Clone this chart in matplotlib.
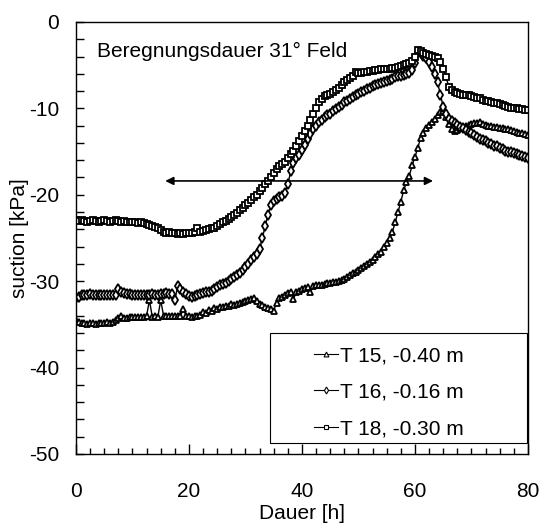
import numpy as np
import matplotlib.pyplot as plt
from matplotlib.patches import Rectangle
from matplotlib.ticker import MultipleLocator

plt.rcParams['font.family'] = ['Liberation Sans', 'DejaVu Sans']
plt.rcParams['axes.unicode_minus'] = False

# measurement time grid [h], one reading every 0.5 h
dauer = np.arange(0, 80.5, 0.5)

t15 = [-34.5, -34.7, -34.8, -34.8, -34.9, -34.8, -34.8, -34.9, -34.8, -34.8,
       -34.8, -34.7, -34.8, -34.7, -34.5, -34.3, -34.0, -34.3, -34.3, -34.2,
       -34.2, -34.1, -34.1, -34.1, -34.1, -34.0, -32.2, -34.1, -34.0, -34.1,
       -32.2, -34.0, -34.0, -34.0, -34.0, -34.0, -34.0, -34.0, -33.2, -34.0,
       -34.0, -34.1, -34.0, -34.0, -33.9, -33.6, -33.7, -33.3, -33.4, -33.1,
       -33.2, -33.0, -33.0, -32.9, -32.9, -32.7, -32.8, -32.6, -32.5, -32.4,
       -32.3, -32.2, -32.1, -32.0, -32.3, -32.6, -32.8, -33.0, -33.1, -33.2,
       -33.4, -32.5, -31.9, -31.8, -31.6, -31.4, -31.3, -32.1, -31.2, -31.1,
       -30.9, -30.8, -30.7, -31.3, -30.6, -30.5, -30.5, -30.4, -30.3, -30.2,
       -30.2, -30.1, -30.1, -30.0, -29.9, -29.7, -29.5, -29.3, -29.1, -28.9,
       -28.7, -28.5, -28.3, -28.0, -27.8, -27.5, -27.2, -26.9, -26.6, -26.1,
       -25.6, -25.0, -24.3, -23.2, -22.0, -20.8, -19.5, -18.5, -17.8, -16.6,
       -15.6, -14.6, -13.4, -12.8, -12.3, -11.9, -11.6, -11.2, -10.8, -10.4,
       -10.3, -11.0, -11.8, -12.4, -12.6, -12.5, -12.3, -12.2, -12.0, -11.9,
       -11.8, -11.7, -11.7, -11.6, -11.8, -11.9, -12.0, -12.0, -12.1, -12.2,
       -12.3, -12.3, -12.4, -12.4, -12.5, -12.6, -12.7, -12.8, -12.9, -13.0,
       -13.1]

t16 = [-31.9, -31.8, -31.6, -31.6, -31.6, -31.5, -31.6, -31.6, -31.6, -31.6,
       -31.6, -31.6, -31.6, -31.6, -31.6, -30.9, -31.2, -31.4, -31.5, -31.5,
       -31.6, -31.6, -31.6, -31.6, -31.6, -31.6, -31.6, -31.5, -31.6, -31.6,
       -31.5, -31.5, -31.4, -31.5, -31.5, -32.2, -30.6, -30.9, -31.2, -31.5,
       -31.7, -31.8, -31.7, -31.6, -31.5, -31.4, -31.3, -31.2, -31.1, -30.9,
       -30.7, -30.5, -30.3, -30.2, -30.0, -29.7, -29.5, -29.3, -29.0, -28.7,
       -28.4, -28.0, -27.6, -27.2, -26.8, -26.3, -25.0, -23.6, -22.3, -21.2,
       -20.7, -20.5, -20.3, -20.2, -19.8, -18.8, -17.3, -16.3, -15.8, -15.4,
       -14.8, -14.2, -13.6, -13.0, -12.4, -12.0, -11.6, -11.3, -11.0, -10.8,
       -10.6, -10.3, -10.1, -9.8, -9.6, -9.3, -9.1, -8.9, -8.7, -8.5,
       -8.3, -8.1, -8.0, -7.8, -7.6, -7.4, -7.3, -7.2, -7.1, -6.9,
       -6.8, -6.7, -6.6, -6.4, -6.3, -6.2, -6.1, -6.0, -5.9, -5.6,
       -4.8, -3.5, -3.6, -3.9, -4.2, -4.6, -5.2, -6.0, -7.0, -8.4,
       -9.8, -10.6, -11.2, -11.5, -11.7, -11.9, -12.1, -12.3, -12.5, -12.7,
       -12.9, -13.1, -13.3, -13.5, -13.7, -13.8, -14.0, -14.1, -14.3, -14.4,
       -14.6, -14.7, -14.9, -15.0, -15.1, -15.2, -15.3, -15.4, -15.5, -15.6,
       -15.7]

t18 = [-22.9, -23.0, -22.9, -23.0, -23.1, -23.0, -22.9, -23.0, -23.1, -23.0,
       -22.9, -23.0, -23.1, -23.0, -22.9, -23.0, -23.1, -23.0, -23.1, -23.2,
       -23.1, -23.2, -23.3, -23.2, -23.3, -23.4, -23.5, -23.6, -23.7, -23.9,
       -24.1, -24.3, -24.4, -24.3, -24.4, -24.4, -24.5, -24.4, -24.5, -24.4,
       -24.4, -24.4, -24.3, -23.9, -24.3, -24.2, -24.1, -24.0, -23.9, -23.8,
       -23.6, -23.4, -23.2, -23.0, -22.8, -22.6, -22.3, -22.1, -21.8, -21.5,
       -21.2, -20.9, -20.6, -20.3, -20.0, -19.6, -19.2, -18.8, -18.4, -18.0,
       -17.5, -17.0, -16.7, -16.4, -16.2, -15.8, -15.3, -14.9, -14.4, -13.8,
       -13.2, -12.6, -12.0, -11.3, -10.6, -9.9, -9.3, -8.9, -8.6, -8.5,
       -8.3, -8.1, -7.9, -7.6, -7.3, -7.0, -6.7, -6.5, -6.2, -5.8,
       -5.9, -5.9, -5.8, -5.8, -5.7, -5.7, -5.6, -5.6, -5.5, -5.5,
       -5.4, -5.4, -5.3, -5.3, -5.2, -5.1, -5.0, -4.9, -4.7, -4.5,
       -4.0, -3.3, -3.4, -3.6, -3.7, -3.8, -3.9, -4.0, -4.2, -4.6,
       -5.4, -6.4, -7.5, -7.9, -8.1, -8.2, -8.3, -8.4, -8.5, -8.5,
       -8.6, -8.7, -8.8, -8.8, -9.0, -9.1, -9.2, -9.3, -9.4, -9.4,
       -9.5, -9.6, -9.7, -9.8, -9.9, -10.0, -10.0, -10.1, -10.1, -10.2,
       -10.2]

labels = ['T 15, -0.40 m', 'T 16, -0.16 m', 'T 18, -0.30 m']
markers = ['^', 'd', 's']

fig = plt.figure(figsize=(5.4, 5.23), dpi=100)
ax = fig.add_axes([0.1407, 0.132, 0.8370, 0.826])

for serie, m, lab in zip([t15, t16, t18], markers, labels):
    ax.plot(dauer, serie, color='black', lw=1.0, marker=m, ms=5,
            mfc='white', mec='black', mew=1.3, label=lab)

# Beregnungsdauer (double arrow)
ax.annotate('', xy=(63.2, -18.4), xytext=(15.8, -18.4),
            arrowprops=dict(arrowstyle='<|-|>', color='black', lw=1.2,
                            mutation_scale=12, shrinkA=0, shrinkB=0))
ax.text(3.7, -3.4, 'Beregnungsdauer 31° Feld', fontsize=15, va='center')

ax.set_xlim(0, 80)
ax.set_ylim(-50, 0)
ax.xaxis.set_major_locator(MultipleLocator(20))
ax.xaxis.set_minor_locator(MultipleLocator(2.5))
ax.yaxis.set_major_locator(MultipleLocator(10))
ax.yaxis.set_minor_locator(MultipleLocator(2))
ax.tick_params(axis='x', which='major', direction='in', length=7, width=1, labelsize=15, pad=20)
ax.tick_params(axis='x', which='minor', direction='in', length=4.5, width=1)
ax.tick_params(axis='y', which='both', direction='in', length=5.5, width=1, labelsize=15, pad=12)
for s in ax.spines.values():
    s.set_linewidth(1.0)

ax.set_xlabel('Dauer [h]', fontsize=15, labelpad=2)
ax.set_ylabel('suction [kPa]', fontsize=15, labelpad=0)

ax.add_patch(Rectangle((0.429, 0.025), 0.569, 0.255, transform=ax.transAxes,
                       fill=True, facecolor='white', edgecolor='black', lw=0.8, zorder=4))
leg = ax.legend(loc='center', bbox_to_anchor=(0.693, 0.143), frameon=False, fontsize=15,
                handlelength=1.15, handletextpad=0.1, labelspacing=0.84, markerscale=0.7)
for h in leg.legend_handles:
    h.set_markeredgewidth(0.8)
    h.set_linewidth(0.8)
leg.set_zorder(5)

fig.savefig('out.png', dpi=100)
